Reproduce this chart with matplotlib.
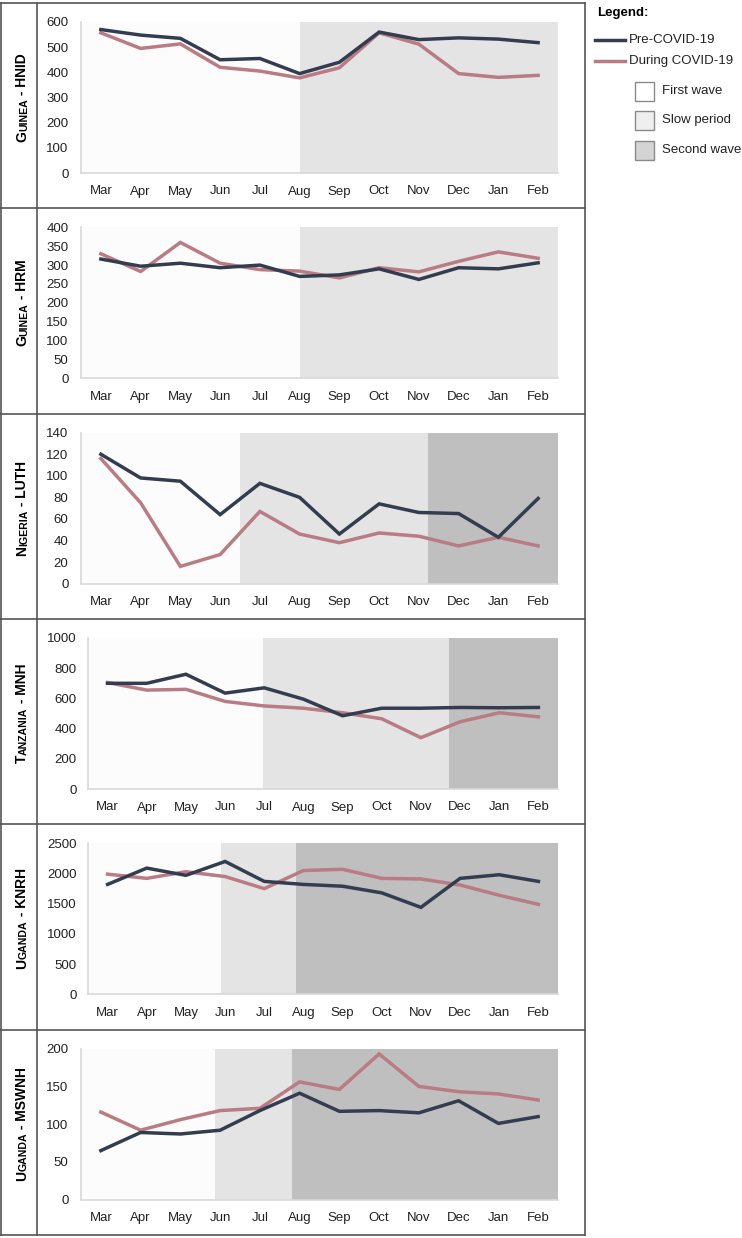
import numpy as np
import matplotlib.pyplot as plt
from matplotlib.patches import Rectangle
from matplotlib.lines import Line2D

plt.rcParams['font.family'] = ['Liberation Sans', 'DejaVu Sans']

months = ['Mar', 'Apr', 'May', 'Jun', 'Jul', 'Aug', 'Sep', 'Oct', 'Nov', 'Dec', 'Jan', 'Feb']

# panel labels (small caps pieces: big, small, rest)
labels = [
    ('G', 'UINEA', ' - HNID'),
    ('G', 'UINEA', ' - HRM'),
    ('N', 'IGERIA', ' - LUTH'),
    ('T', 'ANZANIA', ' - MNH'),
    ('U', 'GANDA', ' - KNRH'),
    ('U', 'GANDA', ' - MSWNH'),
]

pre_hnid = [570, 548, 535, 450, 455, 395, 440, 560, 530, 537, 532, 518]
dur_hnid = [557, 495, 513, 420, 405, 378, 418, 557, 512, 395, 380, 388]

pre_hrm = [316, 297, 305, 293, 300, 270, 274, 290, 262, 293, 290, 306]
dur_hrm = [330, 283, 360, 305, 288, 284, 266, 293, 282, 310, 335, 318]

pre_luth = [120, 98, 95, 64, 93, 80, 46, 74, 66, 65, 43, 79]
dur_luth = [116, 75, 16, 27, 67, 46, 38, 47, 44, 35, 43, 35]

pre_mnh = [700, 700, 760, 635, 670, 595, 485, 535, 535, 540, 538, 540]
dur_mnh = [705, 655, 660, 580, 550, 535, 505, 465, 340, 445, 505, 478]

pre_knrh = [1820, 2090, 1970, 2200, 1870, 1820, 1790, 1680, 1440, 1920, 1980, 1870]
dur_knrh = [1990, 1920, 2030, 1950, 1750, 2050, 2070, 1920, 1910, 1810, 1640, 1490]

pre_mswnh = [65, 89, 87, 92, 118, 141, 117, 118, 115, 131, 101, 110]
dur_mswnh = [116, 92, 106, 118, 121, 156, 146, 193, 150, 143, 140, 132]

pre = [pre_hnid, pre_hrm, pre_luth, pre_mnh, pre_knrh, pre_mswnh]
dur = [dur_hnid, dur_hrm, dur_luth, dur_mnh, dur_knrh, dur_mswnh]

ymax = [600, 400, 140, 1000, 2500, 200]
ystep = [100, 50, 20, 200, 500, 50]

# period boundaries in category units: (slow period start, second wave start)
slow_start = [5.0, 5.0, 3.5, 3.97, 2.9, 2.87]
second_start = [None, None, 8.23, 8.72, 4.81, 4.81]

c_pre = '#343d4f'
c_dur = '#b97b84'
c_first = '#fcfcfc'
c_slow = '#e4e4e4'
c_second = '#bfbfbf'

W, H = 742, 1238
fig = plt.figure(figsize=(W / 100, H / 100), dpi=100)

bg = fig.add_axes([0, 0, 1, 1])
bg.set_xlim(0, W)
bg.set_ylim(H, 0)
bg.axis('off')

row_top = np.linspace(3, 1235, 7)
lc = '#555555'
for y in row_top:
    bg.add_line(Line2D([0, 585], [y, y], color=lc, lw=1.2))
bg.add_line(Line2D([0.8, 0.8], [3, 1235], color=lc, lw=1.2))
bg.add_line(Line2D([37, 37], [3, 1235], color=lc, lw=1.2))
bg.add_line(Line2D([585, 585], [3, 1235], color=lc, lw=1.2))

x = np.arange(len(months))
for i in range(6):
    top = row_top[i] + 19
    bot = row_top[i] + 170
    wide = ymax[i] >= 1000
    left = 88 if wide else 81
    right = 558
    ax = fig.add_axes([left / W, 1 - bot / H, (right - left) / W, (bot - top) / H])
    ax.set_xlim(-0.5, 11.5)
    ax.set_ylim(0, ymax[i])
    s = slow_start[i]
    e = second_start[i] if second_start[i] is not None else 11.5
    ax.axvspan(-0.5, s, color=c_first, lw=0, zorder=0)
    ax.axvspan(s, e, color=c_slow, lw=0, zorder=0)
    if second_start[i] is not None:
        ax.axvspan(e, 11.5, color=c_second, lw=0, zorder=0)
    ax.plot(x, pre[i], color=c_pre, lw=2.5, zorder=3, solid_joinstyle='miter')
    ax.plot(x, dur[i], color=c_dur, lw=2.5, zorder=2, solid_joinstyle='miter')
    ax.set_xticks(x)
    ax.set_xticklabels(months)
    ax.set_yticks(np.arange(0, ymax[i] + 1, ystep[i]))
    ax.tick_params(length=0, labelsize=9.5, labelcolor='#222222')
    ax.tick_params(axis='x', pad=9)
    ax.tick_params(axis='y', pad=8 if wide else 9)
    for sp in ['top', 'right']:
        ax.spines[sp].set_visible(False)
    for sp in ['left', 'bottom']:
        ax.spines[sp].set_color('#d9d9d9')
        ax.spines[sp].set_linewidth(1.2)

    # small-caps style row label, stacked bottom to top
    yc = (top + bot) / 2
    big, small, rest = labels[i]
    parts = [(big, 10), (small, 7.6), (rest, 10)]
    texts = [bg.text(29, 0, t, rotation=90, fontsize=fs, fontweight='bold',
                     ha='right', va='bottom', rotation_mode='default')
             for t, fs in parts]
    r = fig.canvas.get_renderer()
    heights = [t.get_window_extent(r).height for t in texts]
    total = sum(heights)
    ypos = yc + total / 2
    for t, h in zip(texts, heights):
        t.set_y(ypos)
        ypos -= h

# legend
bg.text(597, 13, 'Legend:', fontsize=9.5, fontweight='bold', va='center', ha='left')
bg.add_line(Line2D([595, 625], [40, 40], color=c_pre, lw=2.5))
bg.text(629, 40, 'Pre-COVID-19', fontsize=9.5, va='center', ha='left', color='#222222')
bg.add_line(Line2D([595, 625], [61, 61], color=c_dur, lw=2.5))
bg.text(629, 61, 'During COVID-19', fontsize=9.5, va='center', ha='left', color='#222222')
for yy, fc, name in [(91, '#ffffff', 'First wave'), (120, '#efefef', 'Slow period'),
                     (150, '#d4d4d4', 'Second wave')]:
    bg.add_patch(Rectangle((635, yy - 9.5), 19, 19, facecolor=fc, edgecolor='#8a8a8a', lw=1.0))
    bg.text(662, yy, name, fontsize=9.5, va='center', ha='left', color='#222222')

fig.savefig('out.png', dpi=100)
